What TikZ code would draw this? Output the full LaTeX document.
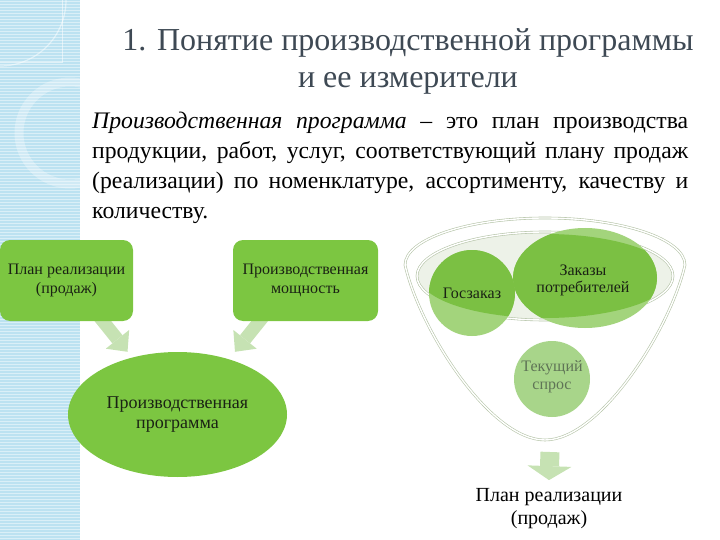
\documentclass[tikz,border=0pt]{standalone}
\usepackage{fontspec}
\setmainfont{Liberation Serif}
\usetikzlibrary{shapes.geometric,arrows.meta,backgrounds,calc}
\definecolor{stripcol}{HTML}{BCE2F1}
\definecolor{boxgreen}{HTML}{7CC641}
\definecolor{darkg}{HTML}{7BC043}
\definecolor{lightg}{HTML}{A3D47C}
\definecolor{tekg}{HTML}{A8D58A}
\definecolor{tektext}{HTML}{5F7456}
\definecolor{arrowcol}{HTML}{C6E2B3}
\definecolor{funnelcol}{HTML}{B5C4A8}
\definecolor{innerfill}{HTML}{EDF2E8}
\definecolor{titlecol}{HTML}{3E4954}
\definecolor{boxtext}{HTML}{1A2214}
\begin{document}
\begin{tikzpicture}[x=1pt,y=-1pt,
  greenbox/.style={rectangle, rounded corners=10pt, fill=boxgreen, inner sep=0pt, align=center, text=boxtext, font=\fontsize{16}{19}\selectfont},
  fatarrow/.style={draw=arrowcol, line width=13pt, -{Triangle[width=30pt,length=16pt,line width=0pt]}},
  downarrow/.style={draw=arrowcol, line width=19pt, -{Triangle[width=44pt,length=14pt,line width=0pt]}},
  funnelline/.style={draw=funnelcol, double=white, double distance=1.4pt, line width=0.6pt},
  funneltext/.style={align=center, inner sep=0pt, font=\fontsize{16}{17}\selectfont, text=boxtext}]
\useasboundingbox (0,0) rectangle (720,540);

% title
\node[anchor=north, align=center, inner sep=0pt, text=titlecol, font=\fontsize{32}{37}\selectfont] (title) at (408,28)
  {1. Понятие производственной программы\\и ее измерители};

% definition text
\node[anchor=base west, inner sep=0pt, font=\fontsize{23.7}{30}\selectfont] (def) at (92,129)
  {\vtop{\baselineskip=30pt
   \hbox to 596pt{\itshape Производственная программа\upshape\ – это план производства}
   \hbox to 596pt{продукции, работ, услуг, соответствующий плану продаж}
   \hbox to 596pt{(реализации) по номенклатуре, ассортименту, качеству и}
   \hbox{количеству.}}};

% left diagram
\node[greenbox, minimum width=133pt, minimum height=81pt] (b1) at (66.5,280.5) {План реализации\\(продаж)};
\node[greenbox, minimum width=145pt, minimum height=81pt] (b2) at (305.5,280.5) {Производственная\\мощность};
\node[ellipse, fill=boxgreen, inner sep=0pt, minimum width=219pt, minimum height=125pt, align=center, text=boxtext, font=\fontsize{18}{20}\selectfont] (prog) at (177.5,414.5) {Производственная\\программа};

% funnel texts
\node[funneltext] (gos) at (472,293) {Госзаказ};
\node[funneltext] (zak) at (583,280) {Заказы\\потребителей};
\node[funneltext, text=tektext, font=\fontsize{16}{18}\selectfont] (tek) at (552,377) {Текущий\\спрос};
\node[align=center, inner sep=0pt, font=\fontsize{20}{23}\selectfont] (plan) at (549,508.5) {План реализации\\(продаж)};
\coordinate (fb) at (550,452);

\begin{scope}[on background layer]
  % left decorative strip
  \fill[stripcol] (0,0) rectangle (80,540);
  \foreach \yy in {1,4,...,540} \draw[white, line width=0.7pt, opacity=0.45] (0,\yy) -- (80,\yy);
  \draw[white, opacity=0.55, line width=1pt] (62,0) -- (62,63) -- (0,63);
  \draw[white, opacity=0.5, line width=1.2pt] (66,0) arc[start angle=0, end angle=90, radius=66];
  \begin{scope}
    \clip (0,0) rectangle (80,540);
    \draw[white, opacity=0.3, line width=9pt] (70,133) circle[radius=51];
  \end{scope}
  % arrows of the left diagram
  \draw[fatarrow] ($(b1.south)+(30,-8)$) -- ($(prog.north)+(-50,0)$);
  \draw[fatarrow] ($(b2.south)+(-39.5,-8)$) -- ($(prog.north)+(57.5,0)$);
  % funnel
  \path[funnelline, fill=white] (685,265) arc[start angle=0, end angle=-180, x radius=140, y radius=47]
     .. controls (420,330) and (490,440) .. (545,440)
     .. controls (600,440) and (670,330) .. (685,265) -- cycle;
  \path[funnelline, fill=innerfill] (545,276) ellipse[x radius=128, y radius=44];
  \fill[lightg] (gos.center) circle[radius=43];
  \fill[lightg] (585,278) ellipse[x radius=72, y radius=50];
  \begin{scope}
    \clip (545,276) ellipse[x radius=126, y radius=42];
    \fill[darkg] (gos.center) circle[radius=43];
    \fill[darkg] (585,278) ellipse[x radius=72, y radius=50];
  \end{scope}
  \fill[tekg] (552,379) circle[radius=38];
  \draw[downarrow] (fb) -- ($(plan.north)+(0,-8)$);
\end{scope}
\end{tikzpicture}
\end{document}
